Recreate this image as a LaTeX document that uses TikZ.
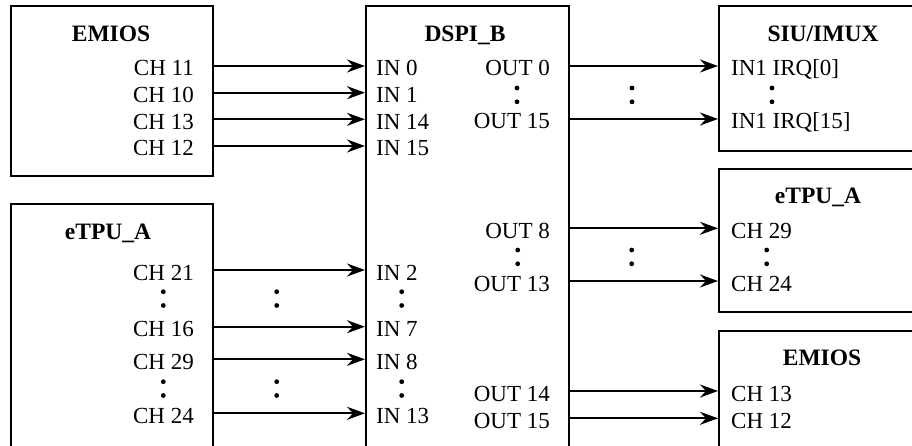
\documentclass[tikz,border=0pt]{standalone}
\usepackage{fontspec}
\setmainfont{Liberation Serif}
\usetikzlibrary{arrows.meta}

\tikzset{
  box/.style={draw, line width=2pt, anchor=north west, inner sep=0pt},
  port/.style={font=\fontsize{23}{26}\selectfont, inner ysep=0pt,
               text height=20pt, text depth=0pt},
  inport/.style={port, anchor=west, inner xsep=11pt},
  outport/.style={port, anchor=east, inner xsep=18pt},
  title/.style={font=\fontsize{23.5}{26}\selectfont\bfseries, anchor=base},
  sig/.style={line width=2pt, -{Stealth[length=18pt, width=13pt, inset=6pt]}},
}

\begin{document}
\begin{tikzpicture}[x=1pt, y=-1pt]
  \useasboundingbox (0,0) rectangle (912,446);
  \clip (0,0) rectangle (912,446);

  % Boxes
  \node[box, minimum width=202pt, minimum height=170pt] (emiosL) at (10,5) {};
  \node[box, minimum width=202pt, minimum height=260pt] (etpuL) at (10,203) {};
  \node[box, minimum width=203pt, minimum height=460pt] (dspi) at (365,5) {};
  \node[box, minimum width=210pt, minimum height=145pt] (siu) at (718,5) {};
  \node[box, minimum width=210pt, minimum height=143pt] (etpuR) at (718,168) {};
  \node[box, minimum width=210pt, minimum height=130pt] (emiosR) at (718,330) {};

  % Titles
  \node[title] (temiosL) at (111,41.7) {EMIOS};
  \node[title] (tetpuL) at (108,240) {eTPU\_A};
  \node[title] (tdspi) at (465,41.7) {DSPI\_B};
  \node[title] (tsiu) at (823,41.7) {SIU/IMUX};
  \node[title] (tetpuR) at (818,203.3) {eTPU\_A};
  \node[title] (temiosR) at (822,365) {EMIOS};

  % EMIOS -> DSPI_B
  \node[outport] (ch11) at (212,66) {CH 11};
  \node[outport] (ch10) at (212,92.7) {CH 10};
  \node[outport] (ch13) at (212,119.3) {CH 13};
  \node[outport] (ch12) at (212,146) {CH 12};
  \node[inport] (in0) at (365,66) {IN 0};
  \node[inport] (in1) at (365,92.7) {IN 1};
  \node[inport] (in14) at (365,119.3) {IN 14};
  \node[inport] (in15) at (365,146) {IN 15};
  \draw[sig] (ch11) -- (in0);
  \draw[sig] (ch10) -- (in1);
  \draw[sig] (ch13) -- (in14);
  \draw[sig] (ch12) -- (in15);

  % eTPU_A -> DSPI_B
  \node[outport] (ch21) at (212,270) {CH 21};
  \node[outport] (ch16) at (212,326.7) {CH 16};
  \node[outport] (ch29) at (212,359.3) {CH 29};
  \node[outport] (ch24) at (212,413.3) {CH 24};
  \node[inport] (in2) at (365,270) {IN 2};
  \node[inport] (in7) at (365,326.7) {IN 7};
  \node[inport] (in8) at (365,359.3) {IN 8};
  \node[inport] (in13) at (365,413.3) {IN 13};
  \draw[sig] (ch21) -- (in2);
  \draw[sig] (ch16) -- (in7);
  \draw[sig] (ch29) -- (in8);
  \draw[sig] (ch24) -- (in13);

  % DSPI_B -> SIU/IMUX
  \node[outport] (out0) at (568,66) {OUT 0};
  \node[outport] (out15) at (568,119) {OUT 15};
  \node[inport, inner xsep=13pt] (irq0) at (718,66) {IN1 IRQ[0]};
  \node[inport, inner xsep=13pt] (irq15) at (718,119) {IN1 IRQ[15]};
  \draw[sig] (out0) -- (irq0);
  \draw[sig] (out15) -- (irq15);

  % DSPI_B -> eTPU_A
  \node[outport] (out8) at (568,228.3) {OUT 8};
  \node[outport] (out13) at (568,281) {OUT 13};
  \node[inport, inner xsep=13pt] (rch29) at (718,228.3) {CH 29};
  \node[inport, inner xsep=13pt] (rch24) at (718,281) {CH 24};
  \draw[sig] (out8) -- (rch29);
  \draw[sig] (out13) -- (rch24);

  % DSPI_B -> EMIOS
  \node[outport] (out14) at (568,391) {OUT 14};
  \node[outport] (out15b) at (568,418.3) {OUT 15};
  \node[inport, inner xsep=13pt] (rch13) at (718,391) {CH 13};
  \node[inport, inner xsep=13pt] (rch12) at (718,418.3) {CH 12};
  \draw[sig] (out14) -- (rch13);
  \draw[sig] (out15b) -- (rch12);

  % Ellipsis dots
  \foreach \x/\y in {517/88, 632/88, 772/88,
                     163.3/291.7, 276.7/291.7, 401.7/291.7,
                     163.3/381.7, 276.7/381.7, 401.7/381.7,
                     517.7/250, 631.7/250, 766.7/250} {
    \fill (\x,\y) circle (2.4pt) (\x,\y+13.8) circle (2.4pt);
  }
\end{tikzpicture}
\end{document}
